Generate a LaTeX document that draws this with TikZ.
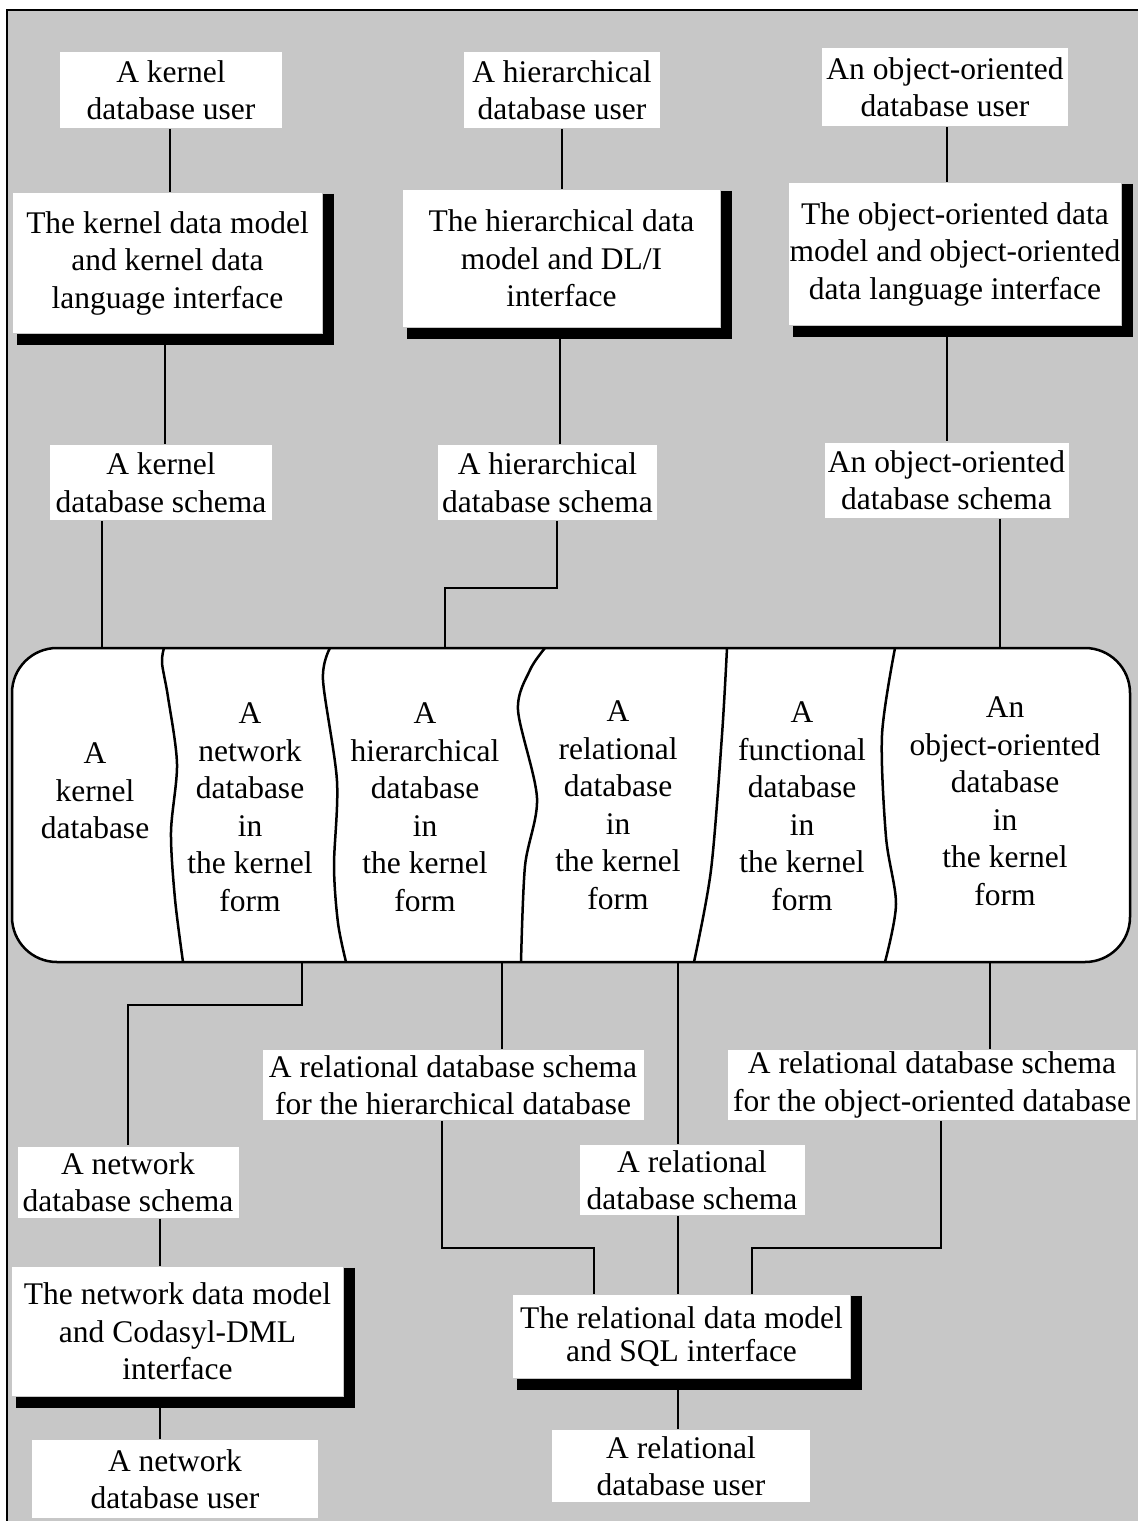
\documentclass[tikz,border=0pt]{standalone}
\usepackage{fontspec}
\setmainfont{Liberation Serif}

\definecolor{screen}{gray}{0.78}

\begin{document}
\begin{tikzpicture}[x=1pt, y=-1pt, line width=2.5pt,
        font=\fontsize{31.5}{37.5}\selectfont,
        lbl/.style={fill=white, align=center, inner sep=0pt},
        bar/.style={line width=11pt},
        column/.style={align=center, inner sep=0pt}]
        \useasboundingbox (0,0) rectangle (1138,1521);
        \clip (0,0) rectangle (1138,1521);
        \fill[white] (0,0) rectangle (1138,1521);
        \draw[fill=screen, line width=2pt] (7,10) rectangle (1150,1535);

        \node[lbl, minimum width=222, minimum height=76] (uk) at (171,90) {A kernel\\database user};
        \node[lbl, minimum width=196, minimum height=76] (uh) at (562,90) {A hierarchical\\database user};
        \node[lbl, minimum width=246, minimum height=78] (uo) at (945,87) {An object-oriented\\database user};

        \node[lbl, minimum width=309, minimum height=140] (mk) at (167.5,263) {The kernel data model\\and kernel data\\language interface};
        \node[lbl, minimum width=317, minimum height=137] (mh) at (561.5,258.5) {The hierarchical data\\model and DL/I\\interface};
        \node[lbl, minimum width=332, minimum height=142] (mo) at (955,254) {The object-oriented data\\model and object-oriented\\data language interface};

        \node[lbl, minimum width=222, minimum height=75] (sk) at (161,482.5) {A kernel\\database schema};
        \node[lbl, minimum width=219, minimum height=75] (sh) at (547.5,482.5) {A hierarchical\\database schema};
        \node[lbl, minimum width=244, minimum height=75] (so) at (946.5,480) {An object-oriented\\database schema};

        \node[lbl, minimum width=381, minimum height=70] (rh) at (453,1085) {A relational database schema\\for the hierarchical database};
        \node[lbl, minimum width=408, minimum height=70] (ro) at (932,1085) {A relational database schema\\for the object-oriented database};
        \node[lbl, minimum width=221, minimum height=71] (sn) at (128,1182) {A network\\database schema};
        \node[lbl, minimum width=225, minimum height=70] (sr) at (692,1180) {A relational\\database schema};

        \node[lbl, minimum width=331, minimum height=129] (mn) at (177.5,1331.5) {The network data model\\and Codasyl-DML\\interface};
        \node[lbl, minimum width=337, minimum height=83, font=\fontsize{31.5}{33}\selectfont] (mr) at (681.5,1336.5) {The relational data model\\and SQL interface};

        \node[lbl, minimum width=286, minimum height=78] (un) at (175,1479) {A network\\database user};
        \node[lbl, minimum width=258, minimum height=72] (ur) at (681,1466) {A relational\\database user};

        \foreach \m in {mk,mh,mo,mn,mr}
            \draw[bar] ([shift={(5.5,2)}]\m.north east) |- ([shift={(5,5.5)}]\m.south west);

        \node[draw, fill=white, rounded corners=45, minimum width=1118, minimum height=314] (kdb) at (571,805) {};
        \draw plot[smooth] coordinates {(164,648) (162,663) (168,697) (177,764) (171,832) (175,899) (183,962)};
        \draw plot[smooth] coordinates {(330,648) (323,680) (337,781) (334,866) (338,923) (346,962)};
        \draw plot[smooth] coordinates {(545,648) (530,670) (518,710) (537,798) (525,866) (521,962)};
        \draw plot[smooth] coordinates {(727,648) (722,735) (711,870) (694,962)};
        \draw plot[smooth] coordinates {(895,648) (882,735) (886,837) (896,904) (885,962)};

        \node[column] (ck) at (95,791) {A\\kernel\\database};
        \node[column] (cn) at (250,807) {A\\network\\database\\in\\the kernel\\form};
        \node[column] (ch) at (425,807) {A\\hierarchical\\database\\in\\the kernel\\form};
        \node[column] (cr) at (618,805) {A\\relational\\database\\in\\the kernel\\form};
        \node[column] (cf) at (802,806) {A\\functional\\database\\in\\the kernel\\form};
        \node[column] (co) at (1005,801) {An\\object-oriented\\database\\in\\the kernel\\form};

        \path (uk.south -| 170,0) edge (mk.north -| 170,0)
              (uh.south -| 562,0) edge (mh.north -| 562,0)
              (uo.south -| 947,0) edge (mo.north -| 947,0)
              (mk.south -| 165,0) edge (sk.north -| 165,0)
              (mh.south -| 560,0) edge (sh.north -| 560,0)
              (mo.south -| 947,0) edge (so.north -| 947,0)
              (sk.south -| 102,0) edge (kdb.north -| 102,0)
              (so.south -| 1000,0) edge (kdb.north -| 1000,0)
              (kdb.south -| 502,0) edge (rh.north -| 502,0)
              (kdb.south -| 678,0) edge (sr.north -| 678,0)
              (kdb.south -| 990,0) edge (ro.north -| 990,0)
              (sr.south -| 678,0) edge (mr.north -| 678,0)
              (sn.south -| 160,0) edge (mn.north -| 160,0)
              (mn.south -| 160,0) edge (un.north -| 160,0)
              (mr.south -| 678,0) edge (ur.north -| 678,0)
        ;
        \draw (sh.south -| 557,0) -- (557,588) -| (kdb.north -| 445,0);
        \draw (kdb.south -| 302,0) -- (302,1005) -| (sn.north -| 128,0);
        \draw (rh.south -| 442,0) -- (442,1248) -| (mr.north -| 594,0);
        \draw (ro.south -| 941,0) -- (941,1248) -| (mr.north -| 752,0);
\end{tikzpicture}
\end{document}
